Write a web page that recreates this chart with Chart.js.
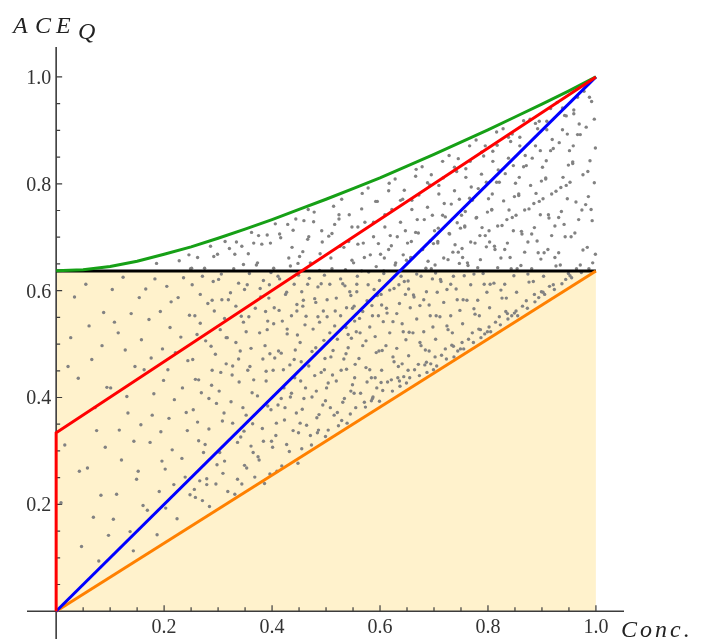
<!DOCTYPE html>
<html>
<head>
<meta charset="utf-8">
<script src="https://cdn.jsdelivr.net/npm/chart.js@4.4.1/dist/chart.umd.min.js"></script>
<style>
  html, body { margin: 0; padding: 0; background: #fff; }
  #wrap { width: 707px; height: 643px; }
</style>
</head>
<body>
<div id="wrap"><canvas id="chart" width="707" height="643"></canvas></div>
<script>
// curves
const plateau = 0.6366;
const greenX = [0, .05, .1, .15, .2, .25, .3, .35, .4, .45, .5, .55, .6, .65, .7, .75, .8, .85, .9, .95, 1];
const greenY = [.637, .639, .645, .655, .668, .682, .698, .715, .733, .752, .771, .791, .811, .833, .855, .878, .901, .925, .949, .974, 1];
const redX = [0, 0, 1];
const redY = [0, .334, 1];
const blueX = [0, 1];
const blueY = [0, 1];
const orangeX = [0, 1];
const orangeY = [0, plateau];

const xTickVals = [0.2, 0.4, 0.6, 0.8, 1.0];
const xTickText = ['0.2', '0.4', '0.6', '0.8', '1.0'];
const yTickVals = [0.2, 0.4, 0.6, 0.8, 1.0];
const yTickText = ['0.2', '0.4', '0.6', '0.8', '1.0'];

// grey sample cloud (hand estimated positions, thinned out)
const cloud = [
 [.027,.512],[.009,.203],[.041,.436],[.016,.311],[.034,.588],[.047,.121],[.022,.458],[.043,.262],
 [.083,.217],[.061,.534],[.097,.142],[.072,.381],[.055,.612],[.091,.307],[.066,.471],[.088,.559],[.079,.094],[.058,.268],[.094,.419],[.069,.176],[.085,.497],[.075,.338],
 [.137,.149],[.104,.602],[.121,.283],[.146,.458],[.112,.219],[.133,.371],[.108,.541],[.143,.113],[.117,.339],[.128,.489],[.101,.418],[.149,.247],[.124,.625],[.139,.557],[.106,.172],[.131,.402],[.115,.521],[.144,.318],
 [.187,.143],[.163,.452],[.196,.281],[.154,.587],[.178,.367],[.191,.224],[.158,.508],[.183,.622],[.169,.189],[.199,.432],[.174,.316],[.152,.262],[.193,.561],[.166,.603],[.181,.407],[.157,.349],[.197,.491],[.172,.546],[.186,.651],[.161,.198],[.176,.474],[.194,.336],
 [.224,.173],[.207,.452],[.243,.338],[.213,.579],[.236,.624],[.202,.266],[.248,.218],[.219,.396],[.231,.513],[.205,.608],[.244,.469],[.215,.302],[.228,.656],[.239,.251],[.209,.361],[.247,.554],[.221,.484],[.234,.418],[.203,.193],[.226,.587],[.241,.372],[.211,.531],[.249,.641],[.218,.237],[.233,.286],[.246,.667],
 [.271,.207],[.258,.434],[.293,.562],[.264,.319],[.286,.683],[.252,.611],[.279,.248],[.297,.389],[.261,.518],[.289,.451],[.275,.642],[.256,.228],[.283,.341],[.267,.593],[.298,.274],[.254,.377],[.277,.506],[.291,.617],[.262,.662],[.284,.196],[.269,.409],[.295,.481],[.257,.553],[.281,.576],[.273,.297],[.299,.668],[.266,.244],[.288,.423],
 [.318,.224],[.341,.487],[.306,.631],[.327,.352],[.349,.273],[.312,.548],[.334,.691],[.302,.412],[.323,.596],[.346,.381],[.309,.258],[.338,.614],[.315,.463],[.331,.219],[.304,.527],[.343,.552],[.321,.679],[.336,.316],[.311,.371],[.347,.649],[.326,.442],[.303,.297],[.339,.429],[.317,.512],[.329,.641],[.344,.238],[.307,.583],[.333,.503],[.313,.692],[.348,.337],
 [.368,.251],[.391,.527],[.354,.611],[.382,.342],[.359,.458],[.397,.689],[.373,.403],[.362,.709],[.386,.239],[.352,.367],[.394,.586],[.377,.521],[.365,.297],[.389,.449],[.357,.551],[.399,.318],[.371,.648],[.384,.619],[.353,.268],[.392,.384],[.375,.703],[.361,.492],[.388,.561],[.366,.433],[.396,.257],[.379,.588],[.356,.669],[.383,.472],[.398,.634],[.364,.351],[.391,.704],[.374,.289],
 [.418,.272],[.436,.553],[.403,.642],[.445,.371],[.412,.487],[.429,.724],[.407,.329],[.441,.612],[.422,.418],[.448,.277],[.404,.568],[.433,.461],[.416,.699],[.439,.338],[.425,.593],[.411,.386],[.447,.517],[.402,.451],[.431,.661],[.419,.543],[.444,.734],[.409,.262],[.427,.312],[.442,.437],[.414,.622],[.437,.681],[.423,.358],[.449,.629],[.406,.725],[.434,.401],[.446,.574],[.417,.483],[.428,.528],[.401,.307],
 [.473,.311],[.458,.582],[.491,.447],[.466,.696],[.483,.362],[.452,.503],[.497,.629],[.478,.747],[.462,.418],[.488,.541],[.455,.304],[.471,.652],[.494,.386],[.459,.731],[.485,.607],[.468,.459],[.499,.327],[.476,.528],[.451,.664],[.492,.712],[.464,.348],[.481,.493],[.457,.571],[.487,.368],[.469,.623],[.495,.562],[.474,.401],[.453,.431],[.489,.669],[.461,.536],[.498,.473],[.479,.585],[.467,.752],[.484,.334],[.456,.378],
 [.523,.347],[.507,.612],[.541,.493],[.516,.724],[.534,.398],[.502,.551],[.548,.657],[.529,.771],[.512,.442],[.545,.369],[.519,.586],[.537,.531],[.504,.339],[.526,.683],[.543,.742],[.509,.476],[.531,.613],[.549,.424],[.515,.367],[.538,.568],[.521,.509],[.505,.702],[.546,.591],[.528,.451],[.511,.641],[.539,.352],[.524,.734],[.547,.511],[.517,.562],[.533,.472],[.501,.418],[.542,.692],[.527,.622],[.514,.758],[.536,.639],[.508,.381],
 [.573,.382],[.558,.627],[.591,.514],[.566,.753],[.584,.437],[.552,.571],[.597,.688],[.578,.792],[.561,.473],[.589,.602],[.555,.381],[.571,.662],[.594,.418],[.559,.719],[.586,.553],[.568,.497],[.599,.393],[.576,.581],[.551,.652],[.592,.767],[.564,.408],[.581,.532],[.557,.612],[.587,.401],[.569,.689],[.595,.591],[.574,.456],[.553,.437],[.588,.701],[.562,.548],[.598,.487],[.579,.635],[.567,.782],[.584,.394],[.556,.523],[.593,.645],[.572,.728],
 [.623,.412],[.608,.661],[.641,.538],[.616,.787],[.634,.458],[.602,.593],[.647,.712],[.628,.809],[.611,.497],[.639,.627],[.605,.413],[.621,.684],[.644,.439],[.609,.742],[.636,.576],[.618,.521],[.649,.427],[.626,.604],[.601,.668],[.642,.771],[.614,.429],[.631,.557],[.607,.637],[.637,.421],[.619,.703],[.645,.617],[.624,.476],[.603,.451],[.638,.728],[.612,.567],[.648,.508],[.629,.652],[.617,.801],[.633,.437],[.606,.542],[.643,.667],[.622,.752],
 [.673,.441],[.658,.692],[.691,.573],[.666,.814],[.684,.489],[.652,.618],[.697,.741],[.678,.832],[.661,.521],[.689,.655],[.655,.437],[.671,.708],[.694,.463],[.659,.769],[.686,.598],[.668,.547],[.699,.452],[.676,.627],[.651,.689],[.692,.798],[.664,.452],[.681,.583],[.657,.661],[.687,.447],[.669,.733],[.695,.641],[.674,.503],[.653,.478],[.688,.756],[.662,.592],[.698,.532],[.679,.677],[.667,.827],[.683,.461],[.656,.568],[.693,.693],[.672,.779],
 [.723,.472],[.708,.717],[.741,.603],[.716,.842],[.734,.521],[.702,.648],[.747,.771],[.728,.853],[.711,.551],[.739,.686],[.705,.459],[.721,.738],[.744,.487],[.709,.797],[.736,.627],[.718,.578],[.749,.491],[.726,.658],[.701,.712],[.742,.823],[.714,.479],[.731,.612],[.707,.689],[.737,.476],[.719,.763],[.745,.672],[.724,.534],[.703,.509],[.738,.787],[.712,.621],[.748,.563],[.729,.706],[.717,.811],[.733,.498],[.706,.597],[.743,.727],
 [.773,.503],[.758,.748],[.791,.632],[.766,.871],[.784,.553],[.752,.679],[.797,.803],[.778,.882],[.761,.582],[.789,.718],[.755,.491],[.771,.769],[.794,.519],[.759,.828],[.786,.658],[.768,.611],[.799,.523],[.776,.689],[.751,.741],[.792,.852],[.764,.509],[.781,.643],[.757,.719],[.787,.512],[.769,.794],[.795,.703],[.774,.566],[.753,.538],[.788,.818],[.762,.652],[.798,.597],[.779,.737],[.767,.842],[.783,.528],[.756,.628],
 [.823,.536],[.808,.781],[.841,.662],[.816,.897],[.834,.586],[.802,.712],[.847,.834],[.828,.903],[.811,.614],[.839,.751],[.805,.523],[.821,.803],[.844,.553],[.809,.861],[.836,.689],[.818,.643],[.849,.558],[.826,.722],[.801,.772],[.842,.879],[.814,.541],[.831,.677],[.807,.751],[.837,.547],[.819,.826],[.845,.737],[.824,.601],[.803,.568],[.838,.848],[.812,.683],[.848,.628],[.829,.768],[.817,.872],[.833,.561],
 [.873,.567],[.858,.812],[.891,.693],[.866,.918],[.884,.617],[.852,.741],[.897,.862],[.878,.921],[.861,.647],[.889,.782],[.855,.553],[.871,.834],[.894,.587],[.859,.887],[.886,.718],[.868,.672],[.899,.598],[.876,.753],[.851,.801],[.892,.903],[.864,.571],[.881,.706],[.857,.778],[.887,.579],[.869,.853],[.895,.767],[.874,.631],[.853,.597],[.888,.871],[.862,.711],[.898,.659],[.879,.797],
 [.923,.602],[.908,.843],[.941,.724],[.916,.941],[.934,.648],[.902,.772],[.947,.893],[.928,.952],[.911,.677],[.939,.812],[.905,.593],[.921,.866],[.944,.621],[.909,.917],[.936,.748],[.918,.703],[.949,.632],[.926,.786],[.901,.831],[.942,.928],[.914,.608],[.931,.737],[.907,.809],[.937,.613],[.919,.883],[.945,.797],[.924,.662],[.903,.627],[.938,.901],[.912,.742],
 [.973,.634],[.958,.871],[.991,.752],[.966,.962],[.984,.681],[.952,.803],[.997,.921],[.978,.973],[.961,.708],[.989,.843],[.955,.624],[.971,.892],[.994,.652],[.959,.938],[.986,.776],[.968,.733],[.999,.668],[.976,.817],[.951,.862],[.992,.954],[.964,.641],[.981,.761],[.957,.838],[.987,.641],[.969,.912]
];

// extra samples where the cloud is thickest (x > 0.25)
const cloudDense = [
 [.262,.354],[.289,.582],[.253,.471],[.296,.238],[.271,.627],[.258,.213],[.283,.398],[.267,.539],[.292,.664],[.276,.312],[.251,.642],[.287,.496],[.264,.433],[.279,.237],
 [.319,.583],[.342,.326],[.305,.447],[.331,.668],[.347,.541],[.312,.281],[.338,.472],[.301,.621],[.324,.392],[.349,.602],[.315,.512],[.336,.247],[.308,.356],[.344,.683],[.327,.459],[.333,.571],
 [.387,.497],[.358,.632],[.376,.283],[.395,.611],[.363,.409],[.381,.687],[.352,.523],[.398,.377],[.369,.567],[.384,.318],[.355,.451],[.392,.543],[.373,.652],[.361,.309],[.389,.431],[.378,.604],[.366,.689],[.396,.482],
 [.427,.597],[.408,.352],[.443,.489],[.414,.706],[.436,.408],[.403,.538],[.448,.651],[.421,.452],[.432,.299],[.411,.627],[.446,.562],[.417,.398],[.439,.713],[.405,.474],[.428,.519],[.449,.334],[.413,.563],[.434,.646],[.424,.381],[.441,.471],
 [.463,.552],[.482,.412],[.457,.673],[.496,.507],[.471,.329],[.488,.638],[.454,.467],[.477,.729],[.499,.394],[.466,.612],[.485,.551],[.452,.352],[.493,.691],[.474,.486],[.459,.398],[.481,.578],[.497,.452],[.468,.701],[.486,.339],[.455,.598],[.479,.441],[.491,.613],
 [.516,.534],[.533,.681],[.504,.427],[.544,.598],[.521,.372],[.509,.661],[.538,.453],[.527,.553],[.548,.719],[.513,.488],[.531,.391],[.502,.583],[.541,.518],[.524,.742],[.546,.412],[.507,.521],[.535,.609],[.519,.431],[.529,.357],[.549,.567],[.511,.707],[.537,.482],
 [.563,.521],[.582,.667],[.554,.462],[.597,.553],[.571,.391],[.588,.728],[.557,.598],[.576,.429],[.593,.484],[.566,.637],[.585,.572],[.552,.408],[.599,.619],[.574,.506],[.559,.687],[.581,.452],[.595,.767],[.568,.561],[.586,.398],[.553,.543],[.578,.611],[.591,.437],
 [.613,.558],[.632,.701],[.604,.488],[.647,.593],[.621,.433],[.638,.769],[.607,.632],[.626,.467],[.643,.523],[.616,.677],[.635,.611],[.602,.428],[.649,.657],[.624,.542],[.609,.719],[.631,.492],[.645,.788],[.618,.601],[.636,.431],[.603,.573],[.628,.648],[.641,.463],
 [.663,.588],[.682,.733],[.654,.522],[.697,.622],[.671,.462],[.688,.802],[.657,.662],[.676,.497],[.693,.553],[.666,.709],[.685,.642],[.652,.451],[.699,.688],[.674,.572],[.659,.752],[.681,.523],[.695,.817],[.668,.631],[.686,.466],[.653,.603],[.678,.677],[.691,.487],
 [.713,.617],[.732,.762],[.704,.553],[.747,.651],[.721,.491],[.738,.831],[.707,.692],[.726,.527],[.743,.583],[.716,.741],[.735,.672],[.702,.476],[.749,.717],[.724,.602],[.709,.781],[.731,.553],[.745,.847],[.718,.661],[.736,.496],[.703,.633],[.728,.707],
 [.763,.647],[.782,.791],[.754,.583],[.797,.682],[.771,.521],[.788,.859],[.757,.721],[.776,.556],[.793,.612],[.766,.773],[.785,.703],[.752,.503],[.799,.747],[.774,.631],[.759,.812],[.781,.582],[.795,.871],[.768,.691],[.786,.527],[.753,.662],[.778,.736],
 [.813,.677],[.832,.819],[.804,.612],[.847,.712],[.821,.551],[.838,.887],[.807,.752],[.826,.586],[.843,.641],[.816,.803],[.835,.733],[.802,.532],[.849,.776],[.824,.661],[.809,.842],[.831,.612],[.845,.893],[.818,.721],[.836,.557],[.803,.691],
 [.863,.706],[.882,.848],[.854,.641],[.897,.742],[.871,.581],[.888,.913],[.857,.781],[.876,.616],[.893,.671],[.866,.832],[.885,.763],[.852,.562],[.899,.805],[.874,.691],[.859,.871],[.881,.641],[.895,.917],[.868,.751],[.886,.593],
 [.913,.736],[.932,.877],[.904,.671],[.947,.772],[.921,.611],[.938,.942],[.907,.811],[.926,.646],[.943,.701],[.916,.862],[.935,.793],[.902,.597],[.949,.835],[.924,.721],[.909,.901],[.931,.671],[.945,.927],[.918,.781],
 [.963,.766],[.982,.906],[.954,.701],[.997,.802],[.971,.648],[.988,.962],[.957,.841],[.976,.676],[.993,.731],[.966,.892],[.985,.823],[.952,.628],[.999,.867],[.974,.751],[.959,.931]
];

const pts = (xs, ys) => xs.map((x, i) => ({ x: x, y: ys[i] }));

const AXIS_COL = '#3c3c3c';
const LABEL_FONT = '"Liberation Serif", "DejaVu Serif", serif';

// axes through the origin, ticks pointing inward (drawn right after the fill)
const axesPlugin = {
    id: 'axesThroughOrigin',
    afterDatasetDraw(chart, args) {
        if (args.index !== 0) return;
        const ctx = chart.ctx;
        const xs = chart.scales.x, ys = chart.scales.y;
        const area = chart.chartArea;
        const x0 = xs.getPixelForValue(0);
        const y0 = ys.getPixelForValue(0);
        ctx.save();
        ctx.strokeStyle = AXIS_COL;
        ctx.lineWidth = 1.6;
        ctx.beginPath();
        ctx.moveTo(area.left, y0);
        ctx.lineTo(area.right, y0);
        ctx.moveTo(x0, area.top);
        ctx.lineTo(x0, area.bottom);
        ctx.stroke();

        ctx.lineWidth = 1.2;
        ctx.beginPath();
        for (let k = 1; k <= 20; k++) {
            const v = k * 0.05;
            const major = k % 4 === 0;
            const len = major ? 6 : 4;
            const px = xs.getPixelForValue(v);
            ctx.moveTo(px, y0);
            ctx.lineTo(px, y0 - len);
            const py = ys.getPixelForValue(v);
            ctx.moveTo(x0, py);
            ctx.lineTo(x0 + len, py);
        }
        ctx.stroke();

        ctx.fillStyle = '#333';
        ctx.font = '20px ' + LABEL_FONT;
        ctx.textAlign = 'center';
        ctx.textBaseline = 'alphabetic';
        xTickVals.forEach((v, i) => {
            ctx.fillText(xTickText[i], xs.getPixelForValue(v), y0 + 22);
        });
        ctx.textAlign = 'right';
        yTickVals.forEach((v, i) => {
            ctx.fillText(yTickText[i], x0 - 5, ys.getPixelForValue(v) + 7);
        });
        ctx.restore();
    },
    afterDraw(chart) {
        const ctx = chart.ctx;
        ctx.save();
        ctx.fillStyle = '#222';
        ctx.textBaseline = 'alphabetic';
        ctx.textAlign = 'left';
        ctx.font = 'italic 24px ' + LABEL_FONT;
        ctx.fillText('A', 13, 33);
        ctx.fillText('C', 35, 33);
        ctx.fillText('E', 56, 33);
        ctx.fillText('Q', 78, 39);
        ctx.letterSpacing = '3px';
        ctx.fillText('Conc.', 621, 637);
        ctx.restore();
    }
};

const lineDs = (label, data, color, order) => ({
    label: label,
    data: data,
    showLine: true,
    borderColor: color,
    borderWidth: 3,
    pointRadius: 0,
    fill: false,
    tension: 0,
    order: order
});

new Chart(document.getElementById('chart'), {
    type: 'scatter',
    data: {
        datasets: [
            {
                label: 'region',
                data: pts([0, 1], [plateau, plateau]),
                showLine: true,
                borderWidth: 0,
                borderColor: 'rgba(0,0,0,0)',
                backgroundColor: 'rgb(255,242,204)',
                pointRadius: 0,
                fill: 'origin',
                order: 10
            },
            {
                label: 'samples',
                data: cloud.concat(cloudDense).map(p => ({ x: p[0], y: p[1] })),
                pointRadius: 1.7,
                pointBorderWidth: 0,
                pointBackgroundColor: '#828282',
                order: 8
            },
            lineDs('plateau', pts([0, 1], [plateau, plateau]), '#000000', 6),
            lineDs('orange', pts(orangeX, orangeY), '#ff8000', 5),
            lineDs('blue', pts(blueX, blueY), '#0000ff', 4),
            lineDs('green', pts(greenX, greenY), '#16a016', 3),
            lineDs('red', pts(redX, redY), '#ff0000', 1)
        ]
    },
    options: {
        responsive: false,
        animation: false,
        events: [],
        layout: { padding: { left: 27, right: 83, top: 47, bottom: 0 } },
        scales: {
            x: { type: 'linear', min: -0.054, max: 1.052, display: false },
            y: { type: 'linear', min: -0.052, max: 1.056, display: false }
        },
        plugins: {
            legend: { display: false },
            tooltip: { enabled: false }
        }
    },
    plugins: [axesPlugin]
});
</script>
</body>
</html>
